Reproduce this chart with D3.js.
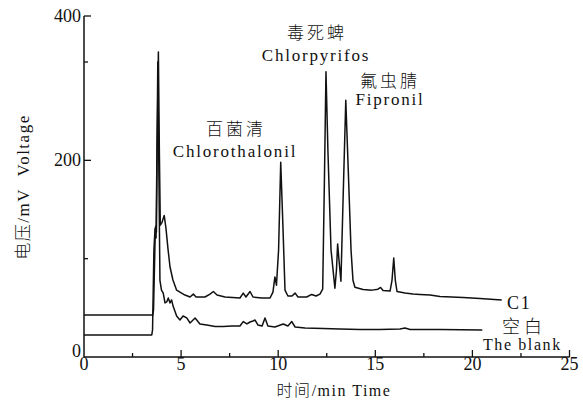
<!DOCTYPE html>
<html>
<head>
<meta charset="utf-8">
<script src="https://cdn.jsdelivr.net/npm/d3@7"></script>
<style>
  body { margin: 0; background: #fff; }
  svg text { fill: #111; }
</style>
</head>
<body>
<div id="chart"></div>
<script>
var SERIF = "'Liberation Serif', 'Times New Roman', 'DejaVu Serif', serif";
var CJK = "'Noto Sans CJK SC', 'Noto Sans CJK JP', sans-serif";

// C1 sample trace: retention time (min) and signal (mV)
var c1Time = [0, 3.54, 3.58, 3.66, 3.69, 3.73, 3.77, 3.83, 3.88, 3.93, 4.02, 4.13, 4.22, 4.33, 4.43, 4.58, 4.77, 4.94,
  5.20, 5.46, 5.63, 5.77, 6.23, 6.49, 6.66, 6.85, 7.26, 8.03, 8.20, 8.34, 8.55, 8.70, 9.17, 9.58, 9.73, 9.83, 9.91,
  10.02, 10.13, 10.25, 10.35, 10.50, 10.71, 10.87, 11.02, 11.47, 11.72, 11.95, 12.15, 12.29, 12.38, 12.46, 12.56,
  12.72, 12.92, 13.00, 13.06, 13.13, 13.23, 13.34, 13.48, 13.59, 13.75, 13.85, 13.95, 14.37, 14.83, 15.14, 15.27,
  15.40, 15.76, 15.86, 15.95, 16.03, 16.12, 16.53, 16.94, 17.30, 17.82, 18.33, 19.52, 20.39, 21.51];
var c1Volt = [42.7, 42.7, 47.8, 119, 133, 127, 221, 322, 210, 134, 137, 144, 131, 109, 91.5, 78.3, 68, 66,
  63, 61, 64, 61, 61, 64, 66.6, 63, 61, 60, 65, 61, 66.6, 61, 60, 60, 66, 81.4, 73,
  109, 198, 129, 68, 62, 62, 65, 61, 61, 63.6, 62, 64, 69, 180, 290, 210,
  109, 70, 88.5, 115, 98.6, 77, 160, 261, 200, 109, 78, 71, 68.6, 68, 69, 70.7,
  67.6, 67, 78, 100.7, 78, 66.6, 65, 64, 63.6, 63, 61.5, 60.5, 59.5, 58];

// blank trace
var blankTime = [0, 3.49, 3.53, 3.60, 3.66, 3.71, 3.77, 3.80, 3.85, 3.91, 3.99, 4.08, 4.17, 4.26, 4.34, 4.43, 4.51,
  4.60, 4.77, 4.94, 5.10, 5.29, 5.46, 5.72, 5.97, 6.32, 6.75, 7.17, 7.62, 8.03, 8.20, 8.39, 8.55, 8.70, 8.81, 8.96,
  9.17, 9.32, 9.47, 9.83, 10.26, 10.50, 10.70, 10.87, 11.38, 12.31, 13.18, 14.21, 15.24, 16.27, 16.53, 16.79,
  18.33, 20.51];
var blankVolt = [22.4, 22.4, 27.5, 109, 131, 121, 231, 300, 200, 78, 68, 65, 55, 56, 60, 55, 58,
  51, 41.7, 37.6, 41.7, 39.7, 34.6, 39.7, 33.6, 32.5, 31, 31, 31.5, 31.5, 36, 33.6, 35.6, 36.6, 37.6, 32.5,
  31.5, 39.7, 31.5, 30.5, 33.6, 31.5, 36, 30.5, 29.5, 29, 28.5, 28, 28, 28.5, 29.5, 28,
  28, 27.5];

var xMajor = [0, 5, 10, 15, 20, 25];
var xMinor = [2.5, 7.5, 12.5, 17.5, 22.5];
var yMajor = [0, 200, 400];
var yMinor = [100, 300];

var W = 583, H = 411;
var svg = d3.select("#chart").append("svg").attr("width", W).attr("height", H);

var x = d3.scaleLinear().domain([0, 25]).range([84, 569.5]);
// the printed axis is not evenly spaced above 300
var y = d3.scaleLinear().domain([0, 300, 400]).range([357, 62, 16]);

var g = svg.append("g");

// axes lines
g.append("line").attr("x1", x(0)).attr("x2", x(25)).attr("y1", y(0)).attr("y2", y(0))
  .attr("stroke", "#111").attr("stroke-width", 1.5);
g.append("line").attr("x1", x(0)).attr("x2", x(0)).attr("y1", y(0)).attr("y2", y(400))
  .attr("stroke", "#111").attr("stroke-width", 1.5);

// ticks point inward
g.selectAll(".xt").data(xMajor.slice(1)).enter().append("line")
  .attr("x1", d => x(d)).attr("x2", d => x(d)).attr("y1", y(0)).attr("y2", y(0) - 7)
  .attr("stroke", "#111").attr("stroke-width", 1.3);
g.selectAll(".xm").data(xMinor).enter().append("line")
  .attr("x1", d => x(d)).attr("x2", d => x(d)).attr("y1", y(0)).attr("y2", y(0) - 4)
  .attr("stroke", "#111").attr("stroke-width", 1.3);
g.selectAll(".yt").data(yMajor.slice(1)).enter().append("line")
  .attr("x1", x(0)).attr("x2", x(0) + 7).attr("y1", d => y(d)).attr("y2", d => y(d))
  .attr("stroke", "#111").attr("stroke-width", 1.3);
g.selectAll(".ym").data(yMinor).enter().append("line")
  .attr("x1", x(0)).attr("x2", x(0) + 4).attr("y1", d => y(d)).attr("y2", d => y(d))
  .attr("stroke", "#111").attr("stroke-width", 1.3);

// tick labels
g.selectAll(".xl").data(xMajor).enter().append("text")
  .attr("x", d => x(d)).attr("y", y(0) + 13).attr("text-anchor", "middle")
  .style("font-family", SERIF).style("font-size", "18px").text(d => d);
g.selectAll(".yl").data(yMajor).enter().append("text")
  .attr("x", x(0) - 3).attr("y", d => d === 0 ? y(d) : y(d) + 6).attr("text-anchor", "end")
  .style("font-family", SERIF).style("font-size", "18px").text(d => d);

// traces
var line = d3.line().x(d => x(d[0])).y(d => y(d[1]));
svg.append("path").datum(d3.zip(blankTime, blankVolt)).attr("d", line)
  .attr("fill", "none").attr("stroke", "#111").attr("stroke-width", 1.5).attr("stroke-linejoin", "round");
svg.append("path").datum(d3.zip(c1Time, c1Volt)).attr("d", line)
  .attr("fill", "none").attr("stroke", "#111").attr("stroke-width", 1.5).attr("stroke-linejoin", "round");

// axis titles
var xt = svg.append("text").attr("x", 334).attr("y", 396).attr("text-anchor", "middle")
  .style("font-size", "16px").style("letter-spacing", "1.5px");
xt.append("tspan").style("font-family", CJK).style("font-weight", 300).text("时间");
xt.append("tspan").style("font-family", SERIF).text("/min Time");

var yt = svg.append("text").attr("transform", "translate(29,187) rotate(-90)").attr("text-anchor", "middle")
  .style("font-size", "17px").style("letter-spacing", "1.5px");
yt.append("tspan").style("font-family", CJK).style("font-weight", 300).text("电压");
yt.append("tspan").style("font-family", SERIF).text("/mV\u00a0\u00a0Voltage");

// peak annotations
function cjk(t, cx, cy, anchor, size, sp) {
  svg.append("text").attr("x", cx).attr("y", cy).attr("text-anchor", anchor || "middle")
    .attr("dominant-baseline", "central").style("font-family", CJK).style("font-weight", 300)
    .style("font-size", (size || 17) + "px").style("letter-spacing", (sp || 3) + "px").text(t);
}
function lat(t, cx, by, anchor, size, sp) {
  svg.append("text").attr("x", cx).attr("y", by).attr("text-anchor", anchor || "middle")
    .style("font-family", SERIF).style("font-size", (size || 17) + "px")
    .style("letter-spacing", (sp || 1.8) + "px").text(t);
}
cjk("毒死蜱", 317, 31);
lat("Chlorpyrifos", 316, 61);
cjk("氟虫腈", 390, 79);
lat("Fipronil", 390, 105);
cjk("百菌清", 236, 127);
lat("Chlorothalonil", 235, 157);
lat("C1", 507, 309, "start", 18);
cjk("空白", 502, 325, "start", 18, 4);
lat("The blank", 483, 350, "start", 16, 1.6);
</script>
</body>
</html>
